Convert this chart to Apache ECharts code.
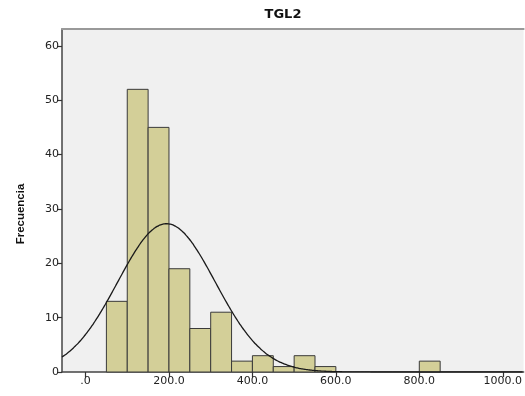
<!DOCTYPE html>
<html>
<head>
<meta charset="utf-8">
<script src="https://cdn.jsdelivr.net/npm/echarts@6/dist/echarts.min.js"></script>
<style>
  html, body { margin: 0; padding: 0; background: #fff; }
  #chart { width: 525px; height: 396px; }
</style>
</head>
<body>
<div id="chart"></div>
<script>
// TGL2 histogram: bins of width 50 with frequency counts
const binLower = [50, 100, 150, 200, 250, 300, 350, 400, 450, 500, 550, 800];
const counts   = [13, 52, 45, 19, 8, 11, 2, 3, 1, 3, 1, 2];
const binWidth = 50;

// Fitted normal curve parameters
const curveMean = 194;
const curveStdDev = 117;
const sampleSize = 160;

// Axis tick values
const xTicks = [0, 200, 400, 600, 800, 1000];
const yTicks = [0, 10, 20, 30, 40, 50, 60];
const xRange = [-56.4, 1050];
const yRange = [0, 63.1];

const bars = binLower.map((lo, i) => [lo, lo + binWidth, counts[i]]);

// Normal density scaled to counts per bin
const curve = [];
for (let x = xRange[0]; x <= xRange[1]; x += 4) {
  const z = (x - curveMean) / curveStdDev;
  const y = sampleSize * binWidth / (curveStdDev * Math.sqrt(2 * Math.PI)) * Math.exp(-0.5 * z * z);
  curve.push([x, y]);
}

const tickFont = 'DejaVu Sans';
const chart = echarts.init(document.getElementById('chart'), null, { renderer: 'canvas' });

chart.setOption({
  animation: false,
  backgroundColor: '#ffffff',
  grid: {
    left: 62, top: 29, right: -2, bottom: 24,
    show: true, backgroundColor: '#f0f0f0', borderWidth: 0
  },
  graphic: [
    {
      type: 'text', x: 283, y: 15,
      style: {
        text: 'TGL2', font: 'bold 13px "DejaVu Sans"', fill: '#111',
        textAlign: 'center', textVerticalAlign: 'middle'
      }
    },
    {
      type: 'text', x: 21, y: 214, rotation: Math.PI / 2,
      style: {
        text: 'Frecuencia', font: 'bold 11.5px "Liberation Sans"', fill: '#111',
        textAlign: 'center', textVerticalAlign: 'middle'
      }
    }
  ],
  xAxis: [
    {
      type: 'value', min: xRange[0], max: xRange[1],
      splitLine: { show: false },
      axisLine: { show: true, onZero: false, lineStyle: { color: '#444', width: 1.5 } },
      axisTick: { show: true, length: 5, customValues: xTicks, lineStyle: { color: '#333', width: 1.2 } },
      axisLabel: {
        customValues: xTicks, margin: 4, color: '#222', fontFamily: tickFont, fontSize: 11,
        formatter: v => (v === 0 ? '.0' : v.toFixed(1))
      }
    },
    {
      type: 'value', position: 'top', min: xRange[0], max: xRange[1],
      splitLine: { show: false },
      axisLine: { show: true, onZero: false, lineStyle: { color: '#999', width: 2 } },
      axisTick: { show: false }, axisLabel: { show: false }
    }
  ],
  yAxis: {
    type: 'value', min: yRange[0], max: yRange[1],
    splitLine: { show: false },
    axisLine: { show: true, onZero: false, lineStyle: { color: '#444', width: 1.5 } },
    axisTick: { show: true, length: 5, customValues: yTicks, lineStyle: { color: '#333', width: 1.2 } },
    axisLabel: {
      customValues: yTicks, margin: 3, color: '#222', fontFamily: tickFont, fontSize: 11
    }
  },
  series: [
    {
      type: 'custom',
      xAxisIndex: 0,
      data: bars,
      renderItem: function (params, api) {
        const p0 = api.coord([api.value(0), api.value(2)]);
        const p1 = api.coord([api.value(1), 0]);
        return {
          type: 'rect',
          shape: { x: p0[0], y: p0[1], width: p1[0] - p0[0], height: p1[1] - p0[1] },
          style: { fill: '#d3cf98', stroke: '#3a3a3a', lineWidth: 1 }
        };
      },
      z: 2
    },
    {
      type: 'line',
      xAxisIndex: 0,
      data: curve,
      showSymbol: false,
      symbol: 'none',
      smooth: true,
      lineStyle: { color: '#1a1a1a', width: 1.3 },
      z: 3
    }
  ]
});
</script>
</body>
</html>
